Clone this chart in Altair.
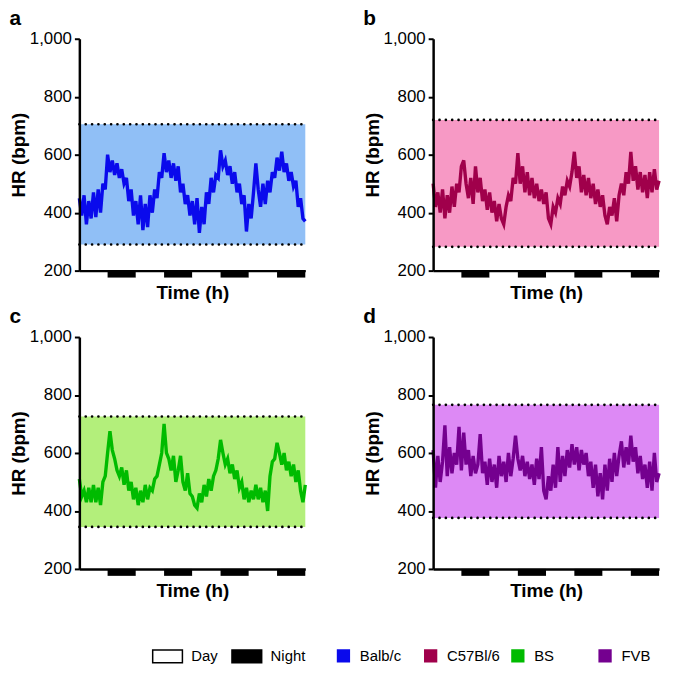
import altair as alt
import pandas as pd

# ---------------- data ----------------
hours = list(range(97))

hr_balbc = [450, 390, 460, 360, 440, 380, 470, 385, 480, 400,
            500, 480, 600, 540, 580, 530, 570, 520, 550, 500,
            520, 440, 480, 390, 440, 360, 460, 340, 430, 350,
            460, 400, 480, 450, 540, 520, 605, 540, 580, 520,
            570, 510, 560, 470, 500, 430, 460, 390, 440, 360,
            450, 330, 420, 360, 470, 430, 520, 470, 530, 520,
            615, 560, 580, 530, 560, 500, 540, 470, 500, 430,
            460, 335, 430, 380, 470, 570, 480, 420, 500, 430,
            510, 470, 540, 520, 590, 545, 610, 540, 570, 510,
            540, 490, 510, 420, 450, 380, 370]

hr_c57 = [500, 420, 470, 400, 480, 380, 460, 400, 490, 420,
          500, 470, 560, 580, 500, 450, 520, 430, 560, 470,
          520, 440, 480, 410, 470, 400, 440, 370, 430, 380,
          360, 420, 460, 440, 520, 500, 605, 500, 560, 470,
          540, 460, 520, 450, 500, 440, 480, 430, 470, 380,
          360, 420, 400, 450, 430, 490, 460, 510, 490, 540,
          610, 520, 560, 470, 530, 460, 520, 450, 500, 430,
          480, 420, 460, 390, 360, 420, 390, 450, 370, 460,
          500, 460, 540, 500, 610, 510, 560, 480, 540, 470,
          530, 450, 540, 470, 550, 480, 510]

hr_bs = [510, 450, 470, 430, 480, 430, 490, 430, 480, 420,
         500, 520, 600, 675, 610, 580, 540, 520, 550, 490,
         540, 470, 500, 440, 480, 420, 470, 430, 490, 440,
         480, 470, 510, 520, 560, 600, 700, 600, 580, 540,
         590, 500, 540, 590, 500, 470, 530, 460, 450, 420,
         410, 460, 430, 490, 450, 510, 470, 520, 540, 580,
         645, 600, 560, 580, 530, 560, 510, 540, 480, 500,
         440, 480, 430, 470, 440, 490, 440, 480, 430, 470,
         400, 520, 570, 580, 635, 600, 560, 600, 540, 570,
         520, 560, 500, 540, 470, 430, 490]

hr_fvb = [610, 480, 590, 500, 570, 695, 520, 620, 530, 600,
          560, 690, 540, 670, 560, 610, 520, 590, 530, 560,
          665, 530, 570, 490, 580, 500, 560, 480, 590, 520,
          570, 500, 600, 520, 580, 660, 580, 540, 590, 520,
          570, 510, 560, 490, 580, 510, 620, 470, 440, 520,
          470, 560, 480, 620, 500, 590, 520, 610, 550, 630,
          560, 620, 540, 610, 560, 600, 520, 570, 480, 560,
          450, 530, 440, 560, 470, 580, 500, 600, 520, 590,
          640, 550, 620, 560, 660, 570, 620, 530, 590, 510,
          560, 480, 570, 470, 600, 500, 530]

strains = ["Balb/c", "C57Bl/6", "BS", "FVB"]
series = [hr_balbc, hr_c57, hr_bs, hr_fvb]
letters = ["a", "b", "c", "d"]
band_low = [290, 282, 345, 376]
band_high = [705, 720, 726, 766]

phase_start = [0, 12, 24, 36, 48, 60, 72, 84]
phase_end = [12, 24, 36, 48, 60, 72, 84, 96]
phase_name = ["Day", "Night"] * 4
phases = ["Day", "Night"]

y_ticks = [200, 400, 600, 800, 1000]
y_range = [200, 1000]
time_range = [0, 96]

# ---------------- styles ----------------
band_colors = ["#90bff6", "#f799c5", "#b3ef7b", "#dd89f5"]
line_colors = ["#0a0aec", "#a0004b", "#00bb00", "#74008f"]
phase_colors = ["#ffffff", "#000000"]
FONT = "Liberation Sans"
W = 228
H = 234
LINE_W = 3.4

phase_df = pd.DataFrame({"start": phase_start, "end": phase_end, "phase": phase_name})

WIDE = "M-1,-0.433H1V0.433H-1Z"
# concentric squares: drawn with a stroke, they read as one solid swatch
SOLID_SQUARE = ("M-1,-1H1V1H-1Z M-0.55,-0.55H0.55V0.55H-0.55Z "
                "M-0.15,-0.15H0.15V0.15H-0.15Z")

phase_legend = alt.Legend(
    title=None, orient="none", legendX=73, legendY=607, direction="horizontal",
    symbolType=WIDE, symbolSize=900, symbolStrokeColor="black",
    symbolStrokeWidth=1.5, symbolOpacity=1, labelFontSize=15, labelFont=FONT,
    labelColor="black", labelOffset=8, columnPadding=11,
)
strain_legend = alt.Legend(
    title=None, orient="none", legendX=259, legendY=615, direction="horizontal",
    symbolType=SOLID_SQUARE, symbolSize=100, symbolStrokeWidth=LINE_W,
    symbolOpacity=1, labelFontSize=15, labelFont=FONT, labelColor="black",
    labelOffset=9, columnPadding=5, gridAlign="all",
)


def panel(i):
    band_df = pd.DataFrame({"start": [time_range[0]], "end": [time_range[1]],
                            "lo": [band_low[i]], "hi": [band_high[i]]})
    line_df = pd.DataFrame({"t": hours, "hr": series[i], "strain": strains[i]})
    x_scale = alt.Scale(domain=time_range, nice=False, zero=False)
    y_scale = alt.Scale(domain=y_range, nice=False, zero=False)
    x_axis = alt.Axis(title="Time (h)", labels=False, ticks=False, grid=False,
                      domainWidth=2.5, domainColor="black", zindex=1,
                      titleFontSize=19, titleFontWeight="bold", titleFont=FONT,
                      titleColor="black", titlePadding=13)
    y_axis = alt.Axis(title="HR (bpm)", values=y_ticks, format=",d", grid=False,
                      domainWidth=2.5, domainColor="black", zindex=1,
                      tickWidth=2, tickColor="black", tickSize=5,
                      labelFontSize=17, labelFont=FONT, labelColor="black",
                      labelPadding=3,
                      titleFontSize=19, titleFontWeight="bold", titleFont=FONT,
                      titleColor="black", titlePadding=1)
    band = alt.Chart(band_df).mark_rect(color=band_colors[i]).encode(
        x=alt.X("start:Q", scale=x_scale, axis=x_axis),
        x2="end:Q",
        y=alt.Y("lo:Q", scale=y_scale, axis=y_axis),
        y2="hi:Q",
    )
    hi_rule = alt.Chart(band_df).mark_rule(
        strokeDash=[0.1, 6.3], strokeWidth=2.6, strokeCap="round", color="black"
    ).encode(x="start:Q", x2="end:Q", y="hi:Q")
    lo_rule = alt.Chart(band_df).mark_rule(
        strokeDash=[0.1, 6.3], strokeWidth=2.6, strokeCap="round", color="black"
    ).encode(x="start:Q", x2="end:Q", y="lo:Q")
    line = alt.Chart(line_df).mark_line(strokeWidth=LINE_W).encode(
        x="t:Q",
        y="hr:Q",
        stroke=alt.Stroke("strain:N",
                          scale=alt.Scale(domain=strains, range=line_colors),
                          legend=strain_legend),
    )
    bars = alt.Chart(phase_df).mark_rect(y2Offset=7).encode(
        x="start:Q",
        x2="end:Q",
        y=alt.datum(200),
        y2=alt.datum(200),
        color=alt.Color("phase:N",
                        scale=alt.Scale(domain=phases, range=phase_colors),
                        legend=phase_legend),
    )
    return alt.layer(band, hi_rule, lo_rule, line, bars).properties(
        width=W, height=H,
        view=alt.ViewBackground(stroke="transparent"),
        title=alt.TitleParams(letters[i], anchor="start", frame="bounds",
                              fontSize=21, fontWeight="bold", font=FONT,
                              color="black", offset=1),
    )


chart = alt.concat(
    *[panel(i) for i in range(4)], columns=2, spacing={"row": 2, "column": 49}
).resolve_scale(
    color="shared", stroke="shared"
).resolve_legend(
    color="shared", stroke="shared"
).properties(
    padding={"top": -4, "left": 0, "right": 0, "bottom": 0}
).configure_view(
    stroke="transparent", strokeWidth=0
).configure(
    font=FONT
)

chart.save("out.html", embed_options={"renderer": "svg", "actions": False})
